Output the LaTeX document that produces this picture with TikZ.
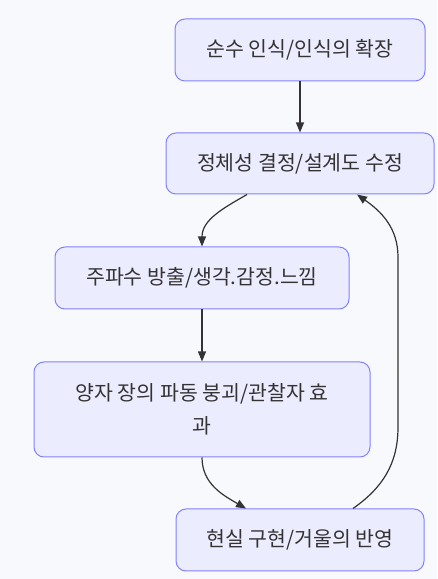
\documentclass[tikz,border=0pt]{standalone}
\usepackage{fontspec}
\newfontfamily\kr{Noto Sans CJK KR}
\usetikzlibrary{calc, arrows.meta}
\definecolor{boxfill}{HTML}{ECECFF}
\definecolor{boxline}{HTML}{8282FA}
\definecolor{ink}{HTML}{333333}
\definecolor{bgcol}{HTML}{F8F9FC}
\tikzset{stepbox/.style={draw=boxline, fill=boxfill, rounded corners=10pt, line width=1pt,
    text=ink, font=\kr\fontsize{20.5}{33}\selectfont, align=center, inner sep=0pt},
  flow/.style={draw=ink, line width=1.2pt, -{Triangle[length=10pt,width=8pt]}}}

\begin{document}
\begin{tikzpicture}[x=1pt,y=1pt]
\fill[bgcol] (0,0) rectangle (437,579);
\useasboundingbox (0,0) rectangle (437,579);
\node[stepbox, minimum width=250pt, minimum height=62pt] (aware) at (300,529) {순수 인식/인식의 확장};
\node[stepbox, minimum width=268pt, minimum height=61pt] (ident) at (300,415.5) {정체성 결정/설계도 수정};
\node[stepbox, minimum width=294pt, minimum height=62pt] (freq) at (202,301) {주파수 방출/생각.감정.느낌};
\node[stepbox, minimum width=336pt, minimum height=95pt] (wave) at (202,169.5) {양자 장의 파동 붕괴/관찰자 효\\과};
\node[stepbox, minimum width=248pt, minimum height=62pt] (real) at (300,39) {현실 구현/거울의 반영};
\coordinate (back) at (398,237);

\draw[flow] (aware) -- (ident);
\draw[flow] ([xshift=-53pt]ident.south) to[out=210,in=90] (freq.north);
\draw[flow] (freq) -- (wave);
\draw[flow] (wave.south) to[out=-90,in=150] ([xshift=-54pt]real.north);
\draw[flow] ([xshift=53pt]real.north) to[out=35,in=-90] ([yshift=-85pt]back)
  -- ([yshift=85pt]back) to[out=90,in=-35] ([xshift=57pt]ident.south);
\end{tikzpicture}
\end{document}
